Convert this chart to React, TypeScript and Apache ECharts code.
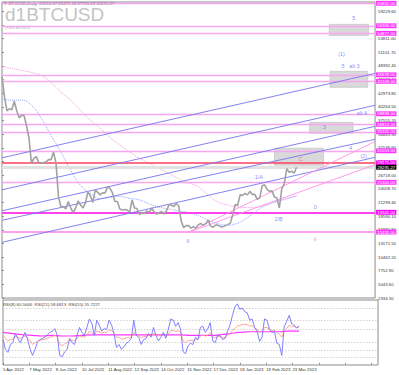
import React, { useEffect, useRef } from "react";
import * as echarts from "echarts";

const FONT = "Liberation Sans";

// x-axis: day index from 5 Apr 2022
const xTickLabels = ["5 Apr 2022", "7 May 2022", "8 Jun 2022", "10 Jul 2022", "11 Aug 2022", "12 Sep 2022", "14 Oct 2022", "15 Nov 2022", "17 Dec 2022", "18 Jan 2023", "19 Feb 2023", "23 Mar 2023"];
const xTickStep = 32;
const dayMax = 456;

// price axis
const priceMin = 2334.3;
const priceStep = 2709.3;
const priceMax = 61090;

// daily closes sampled every 3 days
const priceStepDays = 3;
const closes = [
  46300, 42300, 39500, 39900, 39700, 41400, 39500, 38100, 38600, 38500,
  36500, 34100, 29000, 30100, 30400, 29200, 29100, 29200, 29400, 29800,
  29800, 31300, 29100, 22500, 20400, 20500, 20000, 21500, 20200, 19300,
  20200, 21600, 20800, 20200, 21200, 23400, 22600, 21300, 23800, 23300,
  22800, 23200, 23200, 24400, 24100, 23200, 21500, 21500, 20000, 19800,
  19900, 19800, 19300, 21800, 20200, 20100, 18900, 19300, 19200, 19600,
  19300, 20200, 19400, 19000, 19200, 19500, 19000, 19600, 20800, 20800,
  20500, 21100, 20600, 17600, 16300, 16700, 16700, 16200, 16500, 16200,
  16900, 17100, 16800, 17100, 17800, 16600, 16400, 16800, 16800, 16500,
  16500, 16700, 16900, 17200, 18800, 20900, 20700, 22800, 22700, 23100,
  22800, 23500, 22900, 22900, 21900, 22200, 24600, 24800, 23900, 23500,
  23600, 22400, 22200, 20200, 24100, 25000, 28000, 27300, 27500, 27100,
  28300,
];

// moving averages sampled every 12 days
const maStepDays = 12;
const maFast = [41800, 41600, 41600, 40600, 38000, 34600, 31300, 27700, 24700, 23100, 22100, 22300, 22500, 22100, 21800, 21000, 20400, 20000, 19600, 19300, 18700, 17800, 17100, 16800, 17200, 18300, 19700, 20900, 21600, 22100, 22500];
const maSlow = [48300, 47900, 47500, 47100, 46500, 45100, 43200, 41600, 39600, 37600, 36000, 34200, 32700, 31300, 30100, 29100, 28100, 27100, 26000, 25200, 24400, 22800, 21400, 20800, 20400, 20300, 20400, 20800, 21400, 22000, 22700];

// RSI values sampled every 3 days
const rsi8 = [
  38, 22, 17, 30, 33, 48, 40, 33, 42, 50,
  38, 22, 12, 22, 34, 38, 40, 42, 46, 50,
  52, 56, 45, 12, 10, 18, 22, 40, 33, 30,
  45, 58, 50, 45, 58, 72, 65, 45, 70, 62,
  52, 56, 55, 70, 62, 48, 25, 30, 22, 26,
  32, 35, 40, 70, 45, 42, 30, 38, 40, 48,
  42, 58, 45, 36, 42, 50, 40, 55, 72, 70,
  60, 66, 55, 18, 15, 28, 32, 30, 42, 38,
  58, 60, 50, 56, 66, 36, 33, 45, 45, 38,
  40, 52, 62, 78, 92, 97, 88, 90, 84, 82,
  70, 72, 58, 52, 35, 42, 72, 70, 55, 50,
  52, 32, 30, 12, 60, 68, 78, 64, 62, 57,
  60.56,
];
const rsi21 = [
  45, 40, 36, 38, 39, 44, 42, 40, 42, 44,
  41, 36, 30, 33, 36, 37, 38, 39, 40, 42,
  43, 45, 42, 30, 28, 31, 33, 38, 37, 36,
  40, 44, 43, 42, 45, 52, 50, 46, 52, 51,
  49, 50, 50, 54, 53, 49, 42, 42, 39, 39,
  41, 41, 41, 50, 46, 45, 41, 43, 43, 45,
  44, 48, 46, 44, 45, 46, 44, 47, 53, 53,
  51, 53, 50, 36, 33, 36, 37, 36, 39, 38,
  44, 45, 44, 45, 49, 42, 41, 43, 43, 41,
  42, 45, 48, 53, 56, 61, 61, 63, 63, 63,
  60, 61, 57, 55, 50, 52, 58, 58, 55, 53,
  54, 49, 47, 42, 52, 56, 62, 59, 60, 58,
  58.68,
];
const rsi55StepDays = 12;
const rsi55 = [50, 48, 46, 45, 44, 45, 44, 44, 45, 46, 46, 46, 46, 46, 46, 46, 46, 46, 46, 45, 45, 45, 46, 48, 50, 51, 51, 51, 51, 52, 52];
const rsiLevels = [89, 70.7, 55, 34, 21, 8.6];
const rsiAxisLabels = [100, 89, 70.7, 55, 34, 21, 8.6, 0];

// horizontal levels
const pinkLevels = [60832, 56366, 54877, 46639, 45349, 38898, 36813, 35325, 31553, 25300];
const redLevel = 29171;
const strongLevel = 19345;
const lowLevel = 15435;
const lastPrice = 28295.27;

// channel lines: [day0, price0, day1, price1]
const blueLines = [
  [0, 30164, 456, 46937],
  [0, 23812, 456, 40585],
  [0, 19643, 456, 36416],
  [0, 17757, 456, 33835],
  [0, 13391, 456, 30263],
];
const pinkLines = [
  [228, 15400, 456, 33400],
  [228, 15400, 456, 28800],
];

// gray boxes: [day0, price0, day1, price1]
const boxes = [
  [400, 56641, 448, 54461],
  [401, 47325, 447, 44154],
  [376, 37217, 429, 35037],
  [333, 32064, 393, 28695],
];

// wave labels: [day, price, text]
const blueWaveLabels: [number, number, string][] = [
  [430, 57830, "5"],
  [415, 50695, "(1)"],
  [426, 48316, "5   alt 3"],
  [440, 39001, "alt 4"],
  [394, 36226, "3"],
  [426, 32064, "4"],
  [442, 30478, "(2)"],
  [314, 26316, "1/A"],
  [338, 17992, "2/B"],
  [383, 20370, "0"],
  [227, 13631, "II"],
];
const redWaveLabels: [number, number, string][] = [
  [365, 29884, "C"],
  [383, 14028, "ii"],
];

function buildOption() {
  const tiny = { fontFamily: FONT, fontSize: 4.3, color: "#333" };
  const levelLabel = (bg: string, fg = "#fff") => ({
    show: true,
    position: "end",
    distance: 1,
    formatter: (p: any) => Number(p.value).toFixed(2),
    backgroundColor: bg,
    color: fg,
    fontFamily: FONT,
    fontSize: 4.3,
    padding: [0.6, 1.2, 0.3, 1.2],
  });

  const levelData: any[] = [];
  pinkLevels.forEach((v) =>
    levelData.push({ yAxis: v, lineStyle: { color: "#f7a6f0", width: 1.3, type: "solid" }, label: levelLabel("#ff33ff") })
  );
  levelData.push({ yAxis: redLevel, lineStyle: { color: "#ff4060", width: 1.6, type: "solid" }, label: levelLabel("#ff00ff") });
  levelData.push({ yAxis: strongLevel, lineStyle: { color: "#ff44ee", width: 2, type: "solid" }, label: levelLabel("#ff00ff") });
  levelData.push({ yAxis: lowLevel, lineStyle: { color: "#ffa0f0", width: 2.2, type: "solid" }, label: levelLabel("#ff33ff") });
  levelData.push({ yAxis: lastPrice, lineStyle: { color: "#e2e2e2", width: 3, type: "solid" }, label: levelLabel("#000") });

  const blueLineData = blueLines.map(([d0, p0, d1, p1]) => [{ coord: [d0, p0] }, { coord: [d1, p1] }]);
  const pinkLineData = pinkLines.map(([d0, p0, d1, p1]) => [{ coord: [d0, p0] }, { coord: [d1, p1] }]);

  const boxData = boxes.map(([d0, p0, d1, p1]) => [
    { coord: [d0, p0], itemStyle: { color: "#d9d9d9", borderColor: "#c8c8c8", borderWidth: 0.8 } },
    { coord: [d1, p1] },
  ]);

  const rsiLevelData: any[] = rsiLevels.map((v) => ({ yAxis: v }));
  const rsiLabelData: any[] = rsiAxisLabels.map((v) => ({
    yAxis: v,
    lineStyle: { opacity: 0 },
    label: { show: true, position: "end", distance: 3, formatter: String(v), ...tiny },
  }));

  return {
    animation: false,
    backgroundColor: "#ffffff",
    textStyle: { fontFamily: FONT },
    grid: [
      { left: 2, top: 2, width: 376, height: 296, show: true, borderColor: "#8c8c8c", borderWidth: 1, backgroundColor: "transparent" },
      { left: 2, top: 300, width: 376, height: 65, show: true, borderColor: "#8c8c8c", borderWidth: 1, backgroundColor: "transparent" },
    ],
    xAxis: [
      { gridIndex: 0, type: "value", min: 0, max: dayMax, show: false },
      {
        gridIndex: 1,
        type: "value",
        min: 0,
        max: dayMax,
        interval: xTickStep,
        axisLine: { show: false },
        axisTick: { show: true, length: 2, lineStyle: { color: "#555", width: 0.6 } },
        splitLine: { show: false },
        axisLabel: {
          ...tiny,
          align: "left",
          margin: 2,
          showMaxLabel: false,
          formatter: (v: number) => xTickLabels[Math.round(v / xTickStep)] ?? "",
        },
      },
    ],
    yAxis: [
      {
        gridIndex: 0,
        type: "value",
        position: "right",
        min: priceMin,
        max: priceMax,
        interval: priceStep,
        axisLine: { show: false },
        axisTick: { show: true, length: 2, lineStyle: { color: "#555", width: 0.6 } },
        splitLine: { show: false },
        axisLabel: { ...tiny, margin: 3, showMaxLabel: false, formatter: (v: number) => v.toFixed(2) },
      },
      {
        gridIndex: 1,
        type: "value",
        position: "right",
        min: -3.8,
        max: 103.3,
        axisLine: { show: false },
        axisTick: { show: false },
        axisLabel: { show: false },
        splitLine: { show: false },
      },
    ],
    graphic: [
      { type: "text", left: 3, top: 1, style: { text: "\u25BC BTCUSD,Daily  28516.27 28471.38 27936.28 28295.27", fontFamily: FONT, fontSize: 4.3, fill: "#444" } },
      { type: "text", left: 5, top: 5, style: { text: "d1BTCUSD", fontFamily: FONT, fontSize: 19, fill: "#c4c4c4" } },
      { type: "text", left: 5, top: 25.5, style: { text: "(Fibo Arrows)", fontFamily: FONT, fontSize: 4.3, fill: "#bbb" } },
      { type: "text", left: 3, top: 302, style: { text: "RSI(8) 60.5646  RSI(21) 58.6813  RSI(55) 55.7227", fontFamily: FONT, fontSize: 4.3, fill: "#444" } },
    ],
    series: [
      {
        name: "levels",
        type: "line",
        xAxisIndex: 0,
        yAxisIndex: 0,
        data: [],
        z: 2,
        markLine: { silent: true, symbol: ["none", "none"], data: levelData },
        markArea: { silent: true, data: boxData },
      },
      {
        name: "blueLines",
        type: "line",
        xAxisIndex: 0,
        yAxisIndex: 0,
        data: [],
        z: 3,
        markLine: { silent: true, symbol: ["none", "none"], label: { show: false }, lineStyle: { color: "#7474f0", width: 0.9, type: "solid" }, data: blueLineData },
      },
      {
        name: "pinkLines",
        type: "line",
        xAxisIndex: 0,
        yAxisIndex: 0,
        data: [],
        z: 3,
        markLine: { silent: true, symbol: ["none", "none"], label: { show: false }, lineStyle: { color: "#ff8ee8", width: 0.9, type: "solid" }, data: pinkLineData },
      },
      {
        name: "maSlow",
        type: "line",
        xAxisIndex: 0,
        yAxisIndex: 0,
        smooth: true,
        symbol: "none",
        data: maSlow.map((v, i) => [i * maStepDays, v]),
        lineStyle: { color: "#f49ae4", width: 1, type: "dotted" },
        z: 4,
      },
      {
        name: "maFast",
        type: "line",
        xAxisIndex: 0,
        yAxisIndex: 0,
        smooth: true,
        symbol: "none",
        data: maFast.map((v, i) => [i * maStepDays, v]),
        lineStyle: { color: "#8aa6ff", width: 1, type: "dotted" },
        z: 4,
      },
      {
        name: "price",
        type: "line",
        xAxisIndex: 0,
        yAxisIndex: 0,
        symbol: "none",
        data: closes.map((v, i) => [i * priceStepDays, v]),
        lineStyle: { color: "#a2a2a2", width: 1.6 },
        z: 5,
      },
      {
        name: "waveBlue",
        type: "scatter",
        xAxisIndex: 0,
        yAxisIndex: 0,
        symbolSize: 0,
        data: blueWaveLabels.map(([d, p, t]) => ({ value: [d, p], name: t })),
        label: { show: true, position: "inside", formatter: (p: any) => p.name, fontFamily: FONT, fontSize: 5.5, color: "#6d6df5" },
        z: 6,
      },
      {
        name: "waveRed",
        type: "scatter",
        xAxisIndex: 0,
        yAxisIndex: 0,
        symbolSize: 0,
        data: redWaveLabels.map(([d, p, t]) => ({ value: [d, p], name: t })),
        label: { show: true, position: "inside", formatter: (p: any) => p.name, fontFamily: FONT, fontSize: 5.5, color: "#ff5a5a" },
        z: 6,
      },
      {
        name: "rsiLevels",
        type: "line",
        xAxisIndex: 1,
        yAxisIndex: 1,
        data: [],
        markLine: {
          silent: true,
          symbol: ["none", "none"],
          label: { show: false },
          lineStyle: { color: "#c0c0c0", width: 0.7, type: [1.5, 1.5] },
          data: [...rsiLevelData, ...rsiLabelData],
        },
      },
      {
        name: "RSI(55)",
        type: "line",
        xAxisIndex: 1,
        yAxisIndex: 1,
        symbol: "none",
        data: rsi55.map((v, i) => [i * rsi55StepDays, v]),
        lineStyle: { color: "#ff33ff", width: 1.2 },
        smooth: true,
        z: 4,
      },
      {
        name: "RSI(21)",
        type: "line",
        xAxisIndex: 1,
        yAxisIndex: 1,
        symbol: "none",
        data: rsi21.map((v, i) => [i * priceStepDays, v]),
        lineStyle: { color: "#ff9c8c", width: 0.9 },
        z: 5,
      },
      {
        name: "RSI(8)",
        type: "line",
        xAxisIndex: 1,
        yAxisIndex: 1,
        symbol: "none",
        data: rsi8.map((v, i) => [i * priceStepDays, v]),
        lineStyle: { color: "#7272ff", width: 0.9 },
        z: 6,
      },
    ],
  };
}

export default function App() {
  const ref = useRef<HTMLDivElement>(null);
  useEffect(() => {
    if (!ref.current) return;
    const chart = echarts.init(ref.current, undefined, { renderer: "svg" });
    chart.setOption(buildOption() as any);
    return () => chart.dispose();
  }, []);
  return (
    <div
      ref={ref}
      style={{ position: "fixed", left: 0, top: 0, width: 399, height: 375, background: "#ffffff" }}
    />
  );
}
